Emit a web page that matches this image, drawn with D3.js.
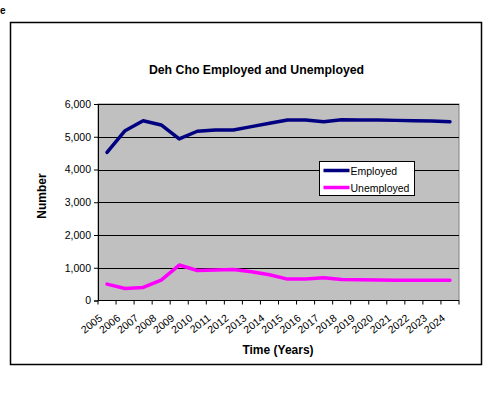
<!DOCTYPE html>
<html>
<head>
<meta charset="utf-8">
<script src="https://cdn.jsdelivr.net/npm/d3@7"></script>
<style>
  html, body { margin: 0; padding: 0; background: #fff; }
  svg { display: block; font-family: "Liberation Sans", Arial, sans-serif; }
</style>
</head>
<body>
<svg id="chart" width="490" height="395"></svg>
<script>
// Labour force counts for the Deh Cho region, 2005-2024
const years = ["2005","2006","2007","2008","2009","2010","2011","2012","2013","2014",
               "2015","2016","2017","2018","2019","2020","2021","2022","2023","2024"];
const employed = [4520, 5186, 5490, 5360, 4933, 5168, 5207, 5207, 5309, 5411,
                  5510, 5510, 5460, 5520, 5515, 5510, 5500, 5490, 5480, 5460];
const unemployed = [500, 367, 398, 624, 1083, 917, 930, 948, 878, 786,
                    654, 654, 694, 642, 630, 625, 622, 622, 622, 622];
const yTicks = [0, 1000, 2000, 3000, 4000, 5000, 6000];
const seriesNames = ["Employed", "Unemployed"];
const seriesColors = ["#000080", "#FF00FF"];

const svg = d3.select("#chart");
const plot = { left: 98, right: 459, top: 104, bottom: 300.5 };

// caption fragment at the top-left corner
svg.append("text").attr("x", 0).attr("y", 14)
  .attr("font-size", 10).attr("font-weight", "bold").text("e");

// outer chart frame
svg.append("rect").attr("x", 10.5).attr("y", 22.5).attr("width", 471).attr("height", 342)
  .attr("fill", "#fff").attr("stroke", "#000").attr("stroke-width", 1.5);

svg.append("text").attr("x", 256.5).attr("y", 74).attr("text-anchor", "middle")
  .attr("font-size", 12.3).attr("font-weight", "bold")
  .text("Deh Cho Employed and Unemployed");

const x = d3.scaleBand().domain(years).range([plot.left, plot.right]);
const y = d3.scaleLinear().domain([0, 6000]).range([plot.bottom, plot.top]);

// plot area
svg.append("rect").attr("x", plot.left).attr("y", plot.top)
  .attr("width", plot.right - plot.left).attr("height", plot.bottom - plot.top)
  .attr("fill", "#C0C0C0").attr("stroke", "#808080").attr("stroke-width", 1);

// horizontal gridlines
svg.append("g").selectAll("line").data(yTicks.filter(d => d > 0)).join("line")
  .attr("x1", plot.left).attr("x2", plot.right)
  .attr("y1", d => Math.round(y(d)) + 0.5).attr("y2", d => Math.round(y(d)) + 0.5)
  .attr("stroke", "#000").attr("stroke-width", 1);

// y axis
const yAxis = d3.axisLeft(y).tickValues(yTicks).tickFormat(d3.format(",")).tickSize(4).tickPadding(3);
const gy = svg.append("g").attr("transform", `translate(${plot.left},0)`).call(yAxis);
gy.select(".domain").attr("stroke", "#000");
gy.selectAll(".tick line").attr("stroke", "#000");
gy.selectAll(".tick text").attr("font-size", 10.5).attr("fill", "#000")
  .attr("font-family", "Liberation Sans, Arial, sans-serif");

// x axis: ticks between categories, labels rotated
const gx = svg.append("g").attr("transform", `translate(0,${plot.bottom})`);
gx.append("line").attr("x1", plot.left).attr("x2", plot.right)
  .attr("stroke", "#000").attr("stroke-width", 1);
const boundaries = years.map(d => x(d)).concat([x(years[years.length - 1]) + x.bandwidth()]);
gx.selectAll("line.tk").data(boundaries).join("line").attr("class", "tk")
  .attr("x1", d => d).attr("x2", d => d).attr("y1", 0).attr("y2", 4)
  .attr("stroke", "#000");
gx.selectAll("text").data(years).join("text")
  .attr("transform", d => `translate(${x(d) + x.bandwidth() / 2 - 4},${19}) rotate(-38)`)
  .attr("text-anchor", "end").attr("font-size", 10.5).attr("fill", "#000")
  .text(d => d);

// axis titles
svg.append("text").attr("transform", "translate(46,196) rotate(-90)")
  .attr("text-anchor", "middle").attr("font-size", 12).attr("font-weight", "bold")
  .text("Number");
svg.append("text").attr("x", 278).attr("y", 354).attr("text-anchor", "middle")
  .attr("font-size", 12).attr("font-weight", "bold").text("Time (Years)");

// series lines
const line = d3.line().x((d, i) => x(years[i]) + x.bandwidth() / 2).y(d => y(d));
[employed, unemployed].forEach((vals, i) => {
  svg.append("path").datum(vals).attr("d", line)
    .attr("fill", "none").attr("stroke", seriesColors[i]).attr("stroke-width", 3.5)
    .attr("stroke-linejoin", "round").attr("stroke-linecap", "round");
});

// legend
const lg = svg.append("g").attr("transform", "translate(319.5,161.5)");
lg.append("rect").attr("width", 95).attr("height", 34)
  .attr("fill", "#fff").attr("stroke", "#000").attr("stroke-width", 1);
seriesNames.forEach((name, i) => {
  const cy = 9 + i * 17;
  lg.append("line").attr("x1", 4).attr("x2", 30).attr("y1", cy).attr("y2", cy)
    .attr("stroke", seriesColors[i]).attr("stroke-width", 3.5);
  lg.append("text").attr("x", 31).attr("y", cy + 4).attr("font-size", 10.5)
    .attr("fill", "#000").text(name);
});
</script>
</body>
</html>
